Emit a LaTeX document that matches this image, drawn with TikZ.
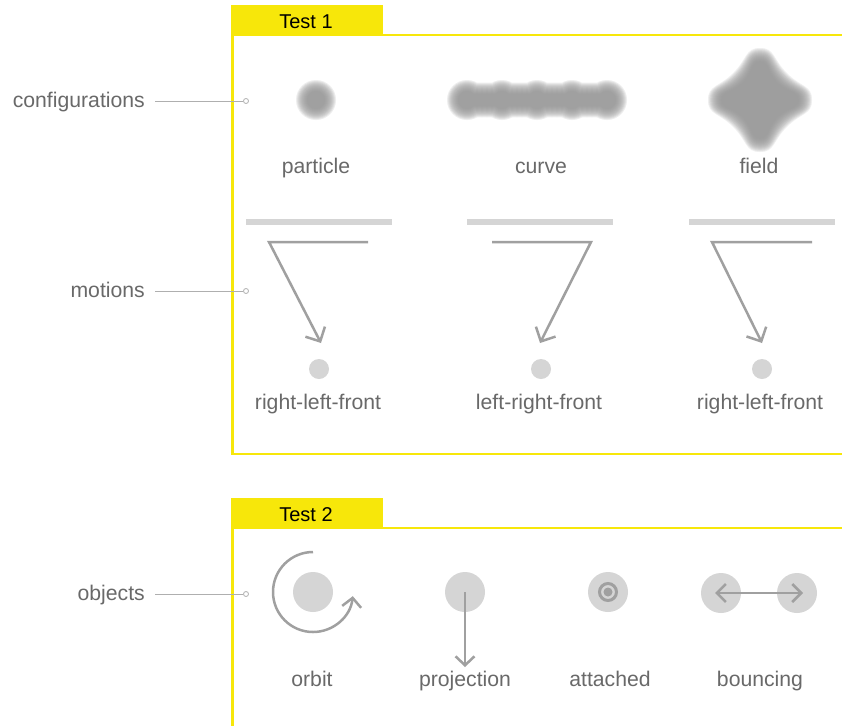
\documentclass[tikz,border=0pt]{standalone}
\usepackage{fontspec}
\setmainfont{Liberation Sans}
\usetikzlibrary{arrows.meta}
\definecolor{ylw}{RGB}{247,231,10}
\definecolor{lbl}{RGB}{105,105,105}
\definecolor{arr}{RGB}{160,160,160}
\definecolor{lead}{RGB}{175,175,175}
\definecolor{lite}{RGB}{213,213,213}
\definecolor{blob}{RGB}{150,150,150}
\begin{document}
\begin{tikzpicture}[x=1pt,y=-1pt,
  frame/.style={draw=ylw, line width=2.5pt},
  tabtext/.style={font=\fontsize{20}{24}\selectfont, text=black, anchor=base},
  lab/.style={font=\fontsize{21.2}{24}\selectfont, text=lbl, anchor=base},
  side/.style={font=\fontsize{21.2}{24}\selectfont, text=lbl, anchor=base east, inner sep=0pt},
  leadline/.style={draw=lead, line width=0.9pt},
  pin/.style={circle, draw=lead, fill=white, line width=0.8pt, inner sep=0pt, minimum size=5pt},
  motion/.style={draw=arr, line width=2.5pt, line join=miter, -{Straight Barb[length=11pt,width=22pt]}},
  barb/.style={draw=arr, line width=2.5pt, -{Straight Barb[length=9pt,width=19pt]}},
  dbarb/.style={draw=arr, line width=2.5pt, {Straight Barb[length=9pt,width=18pt]}-{Straight Barb[length=9pt,width=18pt]}},
  bar/.style={draw=lite, line width=6.5pt},
  dot/.style={circle, fill=lite, inner sep=0pt, minimum size=20pt},
  big/.style={circle, fill=lite, inner sep=0pt, minimum size=40pt},
  layer/.style={fill=blob, opacity=0.16},
  flayer/.style={fill=blob, opacity=0.15}
]
\useasboundingbox (0,0) rectangle (842,726);
\fill[white] (0,0) rectangle (842,726);

% ---------- Test 1 frame ----------
\fill[ylw] (232,5) rectangle (383,35);
\node[tabtext] (t1) at (306,28) {Test 1};
\draw[frame] (232.5,5) -- (232.5,454) -- (842,454);
\draw[frame] (232.5,35) -- (842,35);

% ---------- Test 2 frame ----------
\fill[ylw] (232,498) rectangle (383,528);
\node[tabtext] (t2) at (306,521) {Test 2};
\draw[frame] (232.5,498) -- (232.5,726);
\draw[frame] (232.5,528) -- (842,528);

% ---------- side labels ----------
\node[side] (cfg) at (145,107.5) {configurations};
\coordinate (cfgl) at (155,101);
\node[pin] (cfgp) at (246,101) {};
\draw[leadline] (cfgl) -- (cfgp);

\node[side] (mot) at (145,297.5) {motions};
\coordinate (motl) at (155,291);
\node[pin] (motp) at (246,291) {};
\draw[leadline] (motl) -- (motp);

\node[side] (obj) at (145,600.5) {objects};
\coordinate (objl) at (155,594);
\node[pin] (objp) at (246,594) {};
\draw[leadline] (objl) -- (objp);

% ---------- configurations ----------
% particle
\foreach \r in {9,...,20}{
  \fill[layer] (316,100) circle (\r);
}
\node[lab] (lp) at (316,173) {particle};
% curve: band with five beads
\foreach \r in {9,...,20}{
  \fill[layer] (467,100) circle (\r) (502,100) circle (\r) (537,100) circle (\r)
               (572,100) circle (\r) (607,100) circle (\r)
               \foreach \k in {0,...,28}{ ({467+5*\k},100) circle (\r-2.5) };
}
\node[lab] (lc) at (541,173) {curve};
% field: four-pointed star with concave sides
\foreach \d in {0,...,13}{
  \pgfmathsetmacro\T{39+\d}
  \pgfmathsetmacro\W{(25+\d)*0.7071}
  \fill[flayer] plot[smooth cycle, tension=1] coordinates {
    (760,{100-\T}) ({760+\W},{100-\W})
    ({760+\T},100) ({760+\W},{100+\W})
    (760,{100+\T}) ({760-\W},{100+\W})
    ({760-\T},100) ({760-\W},{100-\W})
  };
}
\node[lab] (lf) at (759,173) {field};

% ---------- motions ----------
\draw[bar] (246,222) -- (392,222);
\draw[bar] (467,222) -- (613,222);
\draw[bar] (689,222) -- (835,222);

\coordinate (m1a) at (368,242); \coordinate (m1b) at (269,242); \coordinate (m1t) at (321,343);
\draw[motion] (m1a) -- (m1b) -- (m1t);
\node[dot] (d1) at (319,369) {};
\node[lab] (l1) at (318,409) {right-left-front};

\coordinate (m2a) at (492,242); \coordinate (m2b) at (591,242); \coordinate (m2t) at (540,343);
\draw[motion] (m2a) -- (m2b) -- (m2t);
\node[dot] (d2) at (541,369) {};
\node[lab] (l2) at (539,409) {left-right-front};

\coordinate (m3a) at (812,242); \coordinate (m3b) at (712,242); \coordinate (m3t) at (762,343);
\draw[motion] (m3a) -- (m3b) -- (m3t);
\node[dot] (d3) at (762,369) {};
\node[lab] (l3) at (760,409) {right-left-front};

% ---------- objects ----------
% orbit
\node[big] (ob) at (313,592) {};
\coordinate (obs) at (313,552);
\draw[barb] (obs) arc[start angle=-90, end angle=-354, radius=40];
\node[lab] (lo) at (312,686) {orbit};
% projection
\node[big] (pr) at (465,592) {};
\coordinate (prt) at (465,667);
\draw[barb] (pr.center) -- (prt);
\node[lab] (lpr) at (465,686) {projection};
% attached
\node[big] (at) at (608,592) {};
\draw[arr, line width=3pt] (at.center) circle (8.5);
\fill[arr] (at.center) circle (4.5);
\node[lab] (lat) at (610,686) {attached};
% bouncing
\node[big] (b1) at (721,593) {};
\node[big] (b2) at (797,593) {};
\coordinate (b1e) at (715,593);
\coordinate (b2e) at (803,593);
\draw[dbarb] (b1e) -- (b2e);
\node[lab] (lb) at (760,686) {bouncing};
\end{tikzpicture}
\end{document}
